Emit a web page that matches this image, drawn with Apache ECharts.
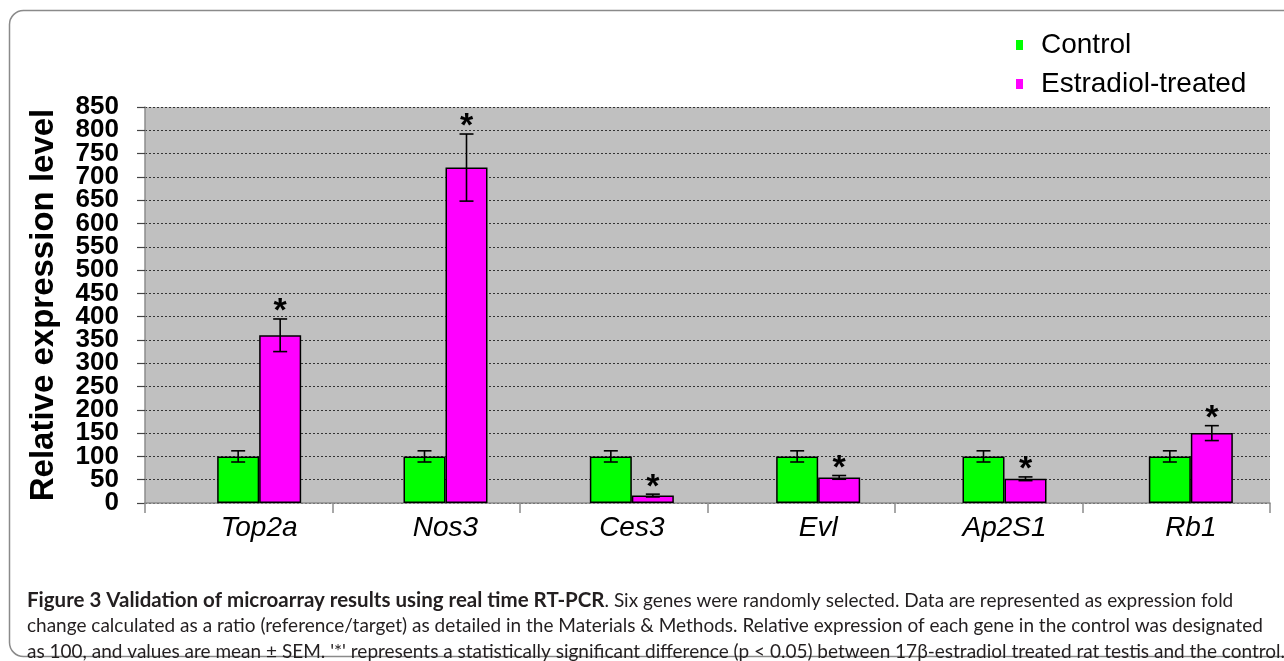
<!DOCTYPE html>
<html>
<head>
<meta charset="utf-8">
<title>Figure 3</title>
<script src="https://cdn.jsdelivr.net/npm/echarts@6/dist/echarts.min.js"></script>
<style>
  html, body { margin: 0; padding: 0; background: #fff; }
  #chart { width: 1284px; height: 661px; }
</style>
</head>
<body>
<div id="chart"></div>
<script>
// genes on the x axis
var genes = ['Top2a', 'Nos3', 'Ces3', 'Evl', 'Ap2S1', 'Rb1'];
var seriesNames = ['Control', 'Estradiol-treated'];
// control is set to 100 for each gene
var controlMean = [100, 100, 100, 100, 100, 100];
var controlSem = [12, 12, 12, 12, 12, 12];
var treatedMean = [360, 720, 16, 55, 52, 150];
var treatedSem = [35, 72, 3, 4, 4, 16];
// '*' = p < 0.05 vs control
var treatedStar = [1, 1, 1, 1, 1, 1];
var controlStar = [0, 0, 0, 0, 0, 0];
var yTicks = { min: 0, max: 850, step: 50 };

var FONT = 'Liberation Sans, Arial, sans-serif';
var BAR_W = 42;

// error bar + asterisk drawn over the bars
function errSeries(name, mean, sem, star, offset){
    var data = [];
    for (var i = 0; i < mean.length; i++) {
        data.push([i, mean[i], sem[i], star[i]]);
    }
    return {
        name: name + ' SEM',
        type: 'custom',
        xAxisIndex: 1, yAxisIndex: 2,
        z: 10,
        silent: true,
        encode: { x: 0, y: 1 },
        data: data,
        renderItem: function(params, api){
            var i = api.value(0), m = api.value(1), e = api.value(2), s = api.value(3);
            var hi = api.coord([i, m + e]);
            var lo = api.coord([i, m - e]);
            var cx = hi[0] + offset;
            var st = { stroke: '#000', lineWidth: 1.6 };
            var kids = [
                { type: 'line', shape: { x1: cx, y1: hi[1], x2: cx, y2: lo[1] }, style: st },
                { type: 'line', shape: { x1: cx - 7, y1: hi[1], x2: cx + 7, y2: hi[1] }, style: st },
                { type: 'line', shape: { x1: cx - 7, y1: lo[1], x2: cx + 7, y2: lo[1] }, style: st }
            ];
            if (s) {
                kids.push({
                    type: 'text',
                    style: {
                        text: '*', x: cx, y: hi[1] - 7,
                        align: 'center', verticalAlign: 'middle',
                        font: 'bold 34px ' + FONT, fill: '#000'
                    }
                });
            }
            return { type: 'group', children: kids };
        }
    };
}

var captionLines = [
    '{b|Figure 3 Validation of microarray results using real time RT-PCR}{r|. Six genes were randomly selected. Data are represented as expression fold}',
    '{r|change calculated as a ratio (reference/target) as detailed in the Materials & Methods. Relative expression of each gene in the control was designated}',
    "{r|as 100, and values are mean \u00b1 SEM. '*' represents a statistically significant difference (p < 0.05) between 17\u03b2-estradiol treated rat testis and the control.}"
];

var yLabelStyle = { margin: 26, fontFamily: FONT, fontWeight: 'bold', fontSize: 26, color: '#000' };

var chart = echarts.init(document.getElementById('chart'));
var option = {
    backgroundColor: '#fff',
    animation: false,
    title: {
        left: 22, top: 583,
        text: captionLines.join('\n'),
        textStyle: {
            fontWeight: 'normal',
            rich: {
                b: { fontFamily: 'Lato', fontWeight: 'bold', fontSize: 20.5, color: '#231f20', lineHeight: 25.5 },
                r: { fontFamily: 'Lato', fontWeight: 'normal', fontSize: 19, color: '#231f20', lineHeight: 25.5 }
            }
        }
    },
    legend: {
        data: seriesNames,
        orient: 'vertical',
        left: 1016, top: 31, padding: 0,
        icon: 'rect',
        itemWidth: 7, itemHeight: 10,
        itemGap: 11,
        itemStyle: { borderWidth: 0 },
        textStyle: { fontFamily: FONT, fontSize: 28, color: '#000', lineHeight: 28, padding: [0, 0, 0, 13] }
    },
    graphic: [{
        type: 'rect',
        shape: { x: 9.5, y: 10.5, width: 1400, height: 646, r: 14 },
        style: { fill: 'none', stroke: '#8a8a8a', lineWidth: 1.5 },
        z: -1
    }],
    grid: [
        { left: 145, top: 107, width: 1125, height: 396, show: true, backgroundColor: '#c0c0c0', borderWidth: 0 },
        { left: 166, top: 107, width: 1125, height: 396 }
    ],
    xAxis: [{
        type: 'category', gridIndex: 0, data: genes,
        axisLine: { lineStyle: { color: '#8c8c8c', width: 1.5 } },
        axisTick: { show: true, length: 10, lineStyle: { color: '#8c8c8c', width: 1.5 } },
        axisLabel: { show: false }
    }, {
        type: 'category', gridIndex: 1, data: genes,
        axisLine: { show: false }, axisTick: { show: false },
        axisLabel: { margin: 11, fontFamily: FONT, fontStyle: 'italic', fontSize: 28, color: '#000' }
    }],
    yAxis: [{
        // inner ticks 50..800 (min / max handled by the next axis)
        type: 'value', gridIndex: 0, position: 'left', offset: 0,
        min: yTicks.min, max: yTicks.max, interval: yTicks.step,
        name: 'Relative expression level',
        nameLocation: 'middle', nameGap: 85,
        nameTextStyle: { fontFamily: FONT, fontWeight: 'bold', fontSize: 33, color: '#000' },
        axisLine: { show: true, lineStyle: { color: '#8c8c8c', width: 1.5 } },
        axisTick: { show: true, length: 8, lineStyle: { color: '#444', width: 1.2 } },
        axisLabel: Object.assign({ showMinLabel: false, showMaxLabel: false }, yLabelStyle),
        splitLine: { show: true, lineStyle: { type: [2, 2], color: '#333', width: 1 } }
    }, {
        // 0 and 850 only
        type: 'value', gridIndex: 0, position: 'left', offset: 0,
        min: yTicks.min, max: yTicks.max, interval: yTicks.max - yTicks.min,
        axisLine: { show: false },
        axisTick: { show: true, length: 8, lineStyle: { color: '#444', width: 1.2 } },
        axisLabel: Object.assign({ showMinLabel: true, showMaxLabel: true }, yLabelStyle),
        splitLine: { show: true, lineStyle: { type: [2, 2], color: '#333', width: 1 } }
    }, {
        type: 'value', gridIndex: 1,
        min: yTicks.min, max: yTicks.max, interval: yTicks.step,
        show: false, splitLine: { show: false }
    }],
    series: [{
        name: seriesNames[0], type: 'bar', xAxisIndex: 1, yAxisIndex: 2,
        barWidth: BAR_W, barGap: '0%',
        itemStyle: { color: '#00ff00', borderColor: '#000', borderWidth: 1.5 },
        data: controlMean
    }, {
        name: seriesNames[1], type: 'bar', xAxisIndex: 1, yAxisIndex: 2,
        barWidth: BAR_W, barGap: '0%',
        itemStyle: { color: '#ff00ff', borderColor: '#000', borderWidth: 1.5 },
        data: treatedMean
    },
    errSeries(seriesNames[0], controlMean, controlSem, controlStar, -BAR_W / 2),
    errSeries(seriesNames[1], treatedMean, treatedSem, treatedStar, BAR_W / 2)
    ]
};
chart.setOption(option);
</script>
</body>
</html>
